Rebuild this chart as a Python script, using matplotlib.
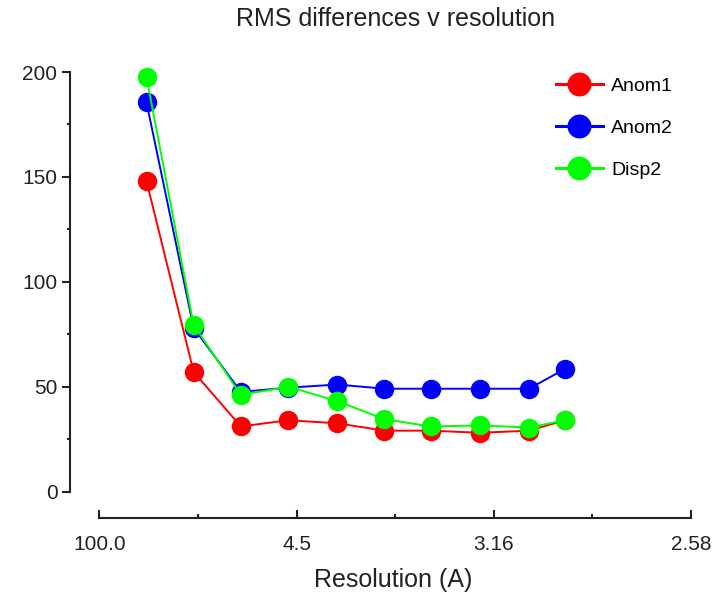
import matplotlib
matplotlib.use("Agg")
import numpy as np
import matplotlib.pyplot as plt
from matplotlib.ticker import FixedLocator, FixedFormatter, MultipleLocator

# Resolution bins (Angstrom) and RMS differences per series
resolution = [9.15, 6.47, 5.28, 4.57, 4.07, 3.72, 3.45, 3.22, 3.03, 2.91]
anom1 = [148, 57, 31, 34, 32.5, 29, 29, 28, 29, 34]
anom2 = [185.5, 78, 47.5, 49.5, 51, 49, 49, 49, 49, 58.5]
disp2 = [197.5, 79.5, 46, 50, 43, 34.5, 31, 31.5, 30.5, 34]

series_names = ["Anom1", "Anom2", "Disp2"]
series_colors = ["#ff0000", "#0000ff", "#00ff00"]

# x axis is linear in 1/d^2; ticks labelled with resolution
tick_pos = [0.0, 0.05, 0.10, 0.15]
tick_labels = ["100.0", "4.5", "3.16", "2.58"]

plt.rcParams["font.family"] = ["Liberation Sans", "DejaVu Sans"]

W, H = 722, 596
fig = plt.figure(figsize=(W / 100, H / 100), dpi=100)
ax = fig.add_axes([99.4 / W, (H - 491.5) / H, 591.6 / W, 419.5 / H])

s = 1.0 / np.asarray(resolution) ** 2
for vals, name, col in zip([anom1, anom2, disp2], series_names, series_colors):
    ax.plot(s, vals, color=col, lw=1.4, marker="o", ms=13, mec=col, mfc=col,
            label=name, clip_on=False)

ax.set_xlim(0, 0.15)
ax.set_ylim(0, 200)

for side in ("top", "right"):
    ax.spines[side].set_visible(False)
ax.spines["left"].set_position(("outward", 21.2))
ax.spines["bottom"].set_position(("outward", 19.1))
ax.spines["left"].set_bounds(0, 200)
ax.spines["bottom"].set_bounds(0, 0.15)
for side in ("left", "bottom"):
    ax.spines[side].set_linewidth(1.5)
    ax.spines[side].set_color("#222222")

ax.xaxis.set_major_locator(FixedLocator(tick_pos))
ax.xaxis.set_major_formatter(FixedFormatter(tick_labels))
ax.xaxis.set_minor_locator(MultipleLocator(0.025))
ax.yaxis.set_major_locator(MultipleLocator(50))
ax.yaxis.set_minor_locator(MultipleLocator(25))

ax.tick_params(axis="y", which="major", direction="out", length=6, width=1.5,
               labelsize=15, pad=3, colors="#222222")
ax.tick_params(axis="y", which="minor", direction="out", length=2.5, width=1.5,
               colors="#222222")
ax.tick_params(axis="x", which="major", direction="in", length=6, width=1.5,
               labelsize=15, pad=12, colors="#222222")
ax.tick_params(axis="x", which="minor", direction="in", length=3, width=1.5,
               colors="#222222")

fig.text(396 / W, 1 - 19 / H, "RMS differences v resolution", ha="center",
         va="center", fontsize=18, color="#222222")
fig.text(393 / W, 1 - 580 / H, "Resolution (A)", ha="center", va="center",
         fontsize=18, color="#222222")

leg = ax.legend(loc="upper left", bbox_to_anchor=(556 / W, 1 - 77.5 / H),
                bbox_transform=fig.transFigure, frameon=False, fontsize=14,
                markerscale=1.25, handlelength=2.4, handletextpad=0.45,
                labelspacing=1.24, borderpad=0, borderaxespad=0)
for line in leg.get_lines():
    line.set_linewidth(2.2)

fig.savefig("out.png", dpi=100)
